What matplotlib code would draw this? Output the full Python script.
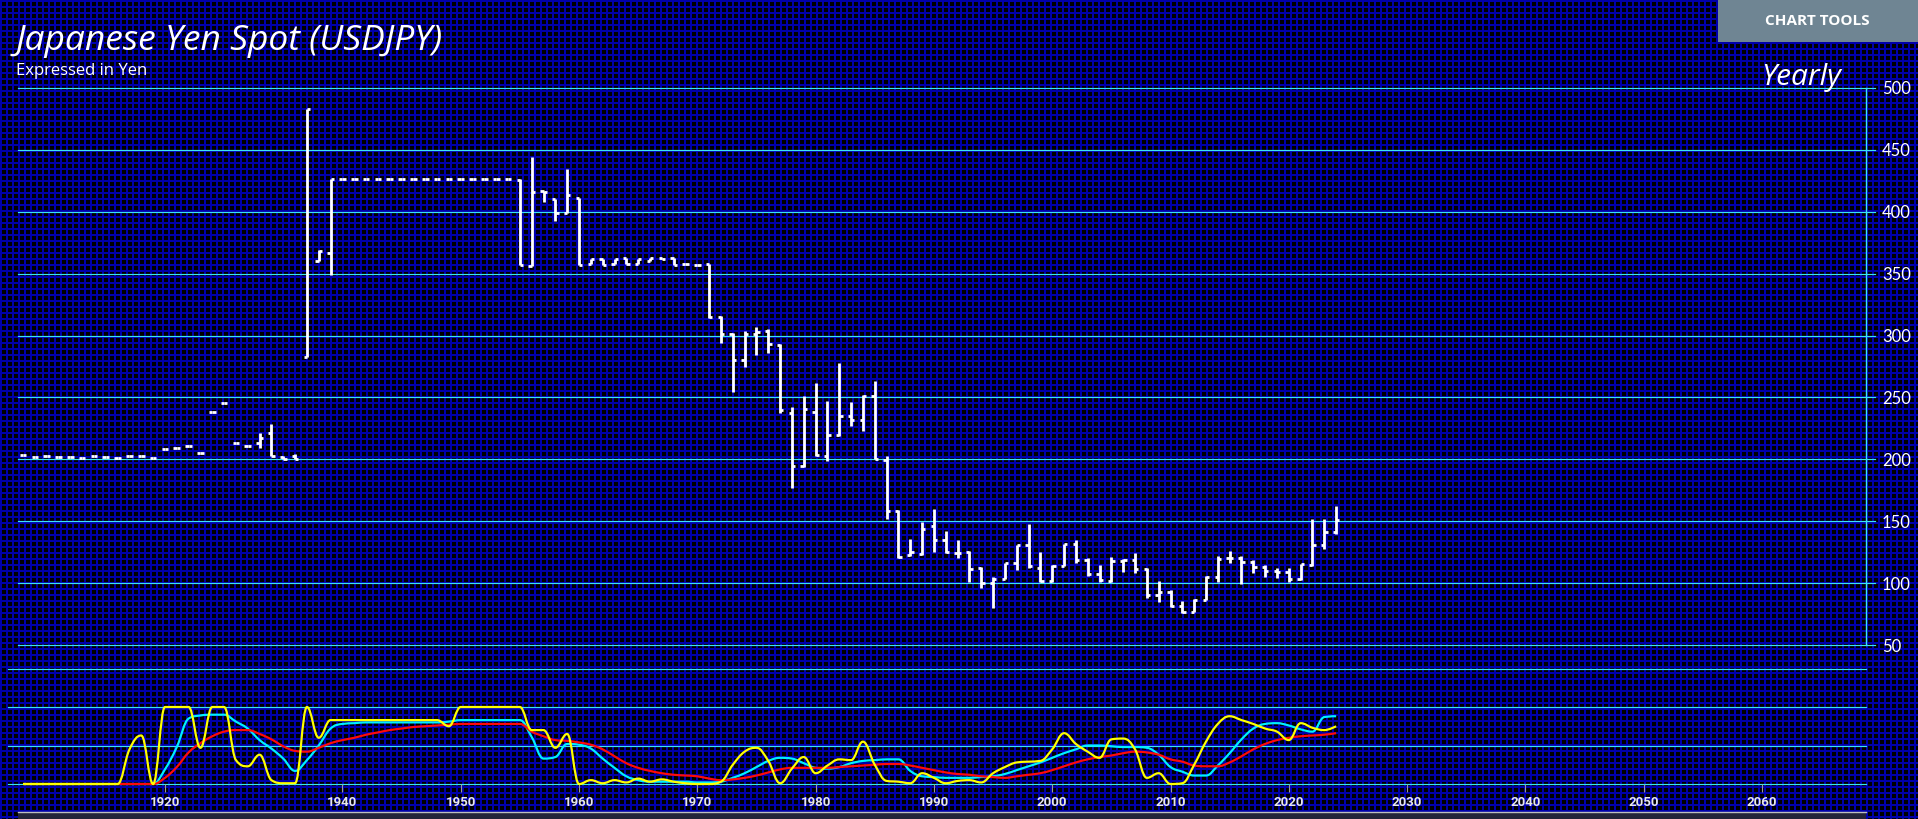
import numpy as np
import matplotlib
matplotlib.use("Agg")
import matplotlib.pyplot as plt
from matplotlib.path import Path
from matplotlib.patches import PathPatch, Rectangle
from matplotlib.lines import Line2D
from matplotlib.collections import LineCollection

# ---------------- data ----------------
years = list(range(1908, 1935)) + list(range(1940, 2025))

opens = [203.3, 201.7, 202.5, 201.7, 201.7, 200.9, 202.5, 201.7, 200.9, 202.5, 202.5, 200.9,
         208.1, 208.9, 210.5, 204.9, 238.0, 245.3, 212.9, 210.5, 213.0, 221.0, 202.0, 203.0,
         283.0, 360.0, 367.0] + [426.5] * 15 + [
         426.0, 356.0, 417.0, 410.0, 399.0, 411.0, 358.0, 362.0, 358.0, 363.0, 358.0, 360.5,
         363.0, 362.4, 358.0, 357.3, 357.8, 315.0, 301.5, 280.5, 301.0, 303.6, 292.7, 237.2,
         194.6, 238.2, 203.0, 220.0, 235.0, 232.0, 251.0, 199.5, 158.0, 122.7, 123.5, 146.0,
         135.0, 124.7, 125.0, 112.5, 99.8, 103.0, 116.0, 130.5, 112.5, 102.0, 114.0, 131.6,
         118.7, 107.0, 102.0, 118.0, 119.0, 111.0, 90.0, 92.8, 81.6, 77.0, 86.7, 105.0,
         120.5, 120.3, 117.0, 112.7, 109.7, 108.6, 103.2, 115.0, 131.0, 141.0]
highs = [203.3, 201.7, 202.5, 201.7, 201.7, 200.9, 202.5, 201.7, 200.9, 202.5, 202.5, 200.9,
         208.1, 208.9, 210.5, 204.9, 238.0, 245.3, 212.9, 210.5, 221.0, 228.5, 202.5, 204.0,
         483.0, 369.0, 426.5] + [426.5] * 15 + [
         426.5, 444.0, 417.0, 410.0, 434.5, 411.0, 362.0, 362.0, 362.0, 363.0, 362.0, 363.0,
         363.0, 362.4, 358.0, 357.3, 358.0, 316.0, 302.4, 303.3, 306.7, 305.7, 293.0, 242.0,
         251.0, 261.4, 247.0, 278.0, 246.0, 252.0, 263.0, 202.7, 159.0, 136.0, 149.6, 160.0,
         142.0, 134.8, 126.0, 113.0, 105.0, 116.5, 131.0, 147.8, 125.0, 114.5, 132.0, 135.0,
         120.0, 114.6, 121.0, 119.7, 124.0, 112.0, 101.7, 94.5, 85.5, 87.2, 105.4, 121.9,
         125.9, 121.7, 118.6, 114.5, 112.4, 112.2, 115.5, 151.9, 151.9, 161.9]
lows = [203.3, 201.7, 202.5, 201.7, 201.7, 200.9, 202.5, 201.7, 200.9, 202.5, 202.5, 200.9,
        208.1, 208.9, 210.5, 204.9, 238.0, 245.3, 212.9, 210.5, 209.5, 202.7, 200.0, 200.0,
        283.0, 360.0, 349.0] + [426.5] * 15 + [
        357.0, 356.0, 408.0, 392.5, 399.0, 357.0, 358.0, 357.0, 358.0, 358.0, 358.0, 360.5,
        361.5, 357.3, 358.0, 357.3, 314.0, 294.0, 254.7, 275.0, 284.4, 286.0, 237.7, 177.0,
        193.8, 202.7, 199.0, 219.0, 227.0, 223.0, 200.0, 151.8, 120.0, 121.9, 123.0, 125.0,
        124.0, 119.9, 101.0, 96.3, 79.6, 103.0, 110.6, 112.0, 101.0, 101.0, 113.6, 116.0,
        106.0, 101.0, 101.0, 109.0, 108.0, 87.7, 85.0, 80.9, 75.6, 77.0, 86.5, 101.0,
        116.5, 99.0, 107.8, 104.6, 104.5, 101.2, 102.6, 113.5, 127.2, 139.6]
closes = [203.3, 201.7, 202.5, 201.7, 201.7, 200.9, 202.5, 201.7, 200.9, 202.5, 202.5, 200.9,
          208.1, 208.9, 210.5, 204.9, 238.0, 245.3, 212.9, 210.5, 217.5, 203.0, 200.0, 200.0,
          483.0, 368.0, 426.5] + [426.5] * 15 + [
          357.0, 416.0, 416.0, 399.0, 413.5, 357.0, 362.0, 357.0, 362.0, 358.0, 362.0, 363.0,
          362.0, 357.3, 358.0, 357.3, 314.7, 301.0, 280.0, 301.3, 303.0, 293.0, 239.6, 194.6,
          240.9, 203.2, 220.0, 235.0, 232.0, 251.0, 200.0, 158.3, 121.0, 125.0, 143.5, 135.0,
          125.0, 124.7, 111.0, 99.8, 103.0, 116.0, 130.5, 113.8, 102.0, 114.0, 131.6, 118.7,
          107.0, 102.3, 118.0, 119.0, 111.4, 90.0, 92.8, 81.8, 77.0, 86.7, 105.3, 119.8,
          120.3, 116.8, 112.7, 109.7, 108.6, 103.2, 115.1, 131.0, 141.0, 151.0]

# oscillators in lower panel (one value per year)
fast_osc = [0, 0, 0, 0, 0, 0, 0, 0, 0, 45, 63, 0, 100, 100, 100, 47, 100, 100, 31, 23,
            38, 5, 1, 1, 100, 60, 83, 83, 83, 83, 83, 83, 83, 83, 83, 83, 75, 100, 100, 100,
            100, 100, 100, 70, 70, 47, 65, 0, 5, 1, 5, 2, 7, 3, 6, 3, 1, 0, 0, 3,
            25, 42, 47, 30, 1, 20, 35, 14, 24, 32, 31, 55, 25, 4, 3, 1, 14, 8, 1, 4,
            5, 2, 14, 22, 28, 29, 30, 45, 66, 52, 42, 34, 58, 59, 45, 8, 14, 0, 1, 25,
            55, 78, 88, 83, 78, 72, 68, 57, 79, 73, 70, 75]
mid_osc = [0, 0, 0, 0, 0, 0, 0, 0, 0, 0, 0, 0, 19, 48, 85, 89, 90, 90, 81, 72,
           57, 46, 33, 17, 31, 50, 72, 78, 79, 80, 80, 80, 80, 80, 80, 80, 81, 83, 83, 83,
           83, 83, 83, 61, 33, 35, 52, 51, 46, 33, 21, 10, 5, 3, 3, 3, 3, 2, 2, 3,
           8, 14, 22, 30, 34, 33, 27, 21, 20, 22, 27, 30, 31, 32, 32, 17, 10, 9, 8, 8,
           8, 9, 10, 13, 18, 23, 28, 34, 40, 45, 50, 50, 49, 48, 48, 47, 38, 22, 16, 11,
           11, 24, 40, 58, 72, 78, 79, 76, 71, 68, 87, 88]
slow_osc = [0, 0, 0, 0, 0, 0, 0, 0, 0, 0, 0, 0, 8, 22, 41, 53, 62, 68, 70, 70,
            65, 58, 49, 43, 42, 47, 53, 57, 60, 64, 67, 70, 72, 74, 75, 76, 77, 78, 78, 78,
            78, 78, 78, 68, 62, 57, 56, 54, 51, 45, 36, 27, 21, 17, 14, 12, 11, 10, 7, 5,
            6, 8, 11, 15, 19, 21, 21, 21, 21, 22, 23, 24, 25, 26, 26, 24, 21, 18, 15, 13,
            12, 10, 9, 8, 10, 12, 14, 18, 23, 28, 32, 35, 37, 40, 42, 41, 38, 32, 29, 24,
            23, 23, 28, 36, 45, 52, 57, 60, 62, 63, 64, 66]

price_ticks = list(range(50, 501, 50))
osc_levels = [0, 50, 100, 150]
tick_years = [1920, 1940, 1950, 1960, 1970, 1980, 1990, 2000, 2010, 2020, 2030, 2040, 2050, 2060]

# ---------------- layout helpers ----------------
W, H = 1918, 819
DPI = 100
fig = plt.figure(figsize=(W / DPI, H / DPI), dpi=DPI)
fig.patch.set_facecolor("black")

# blue mesh background
P, LW = 6, 2
yy, xx = np.mgrid[0:H, 0:W]
mask = ((xx % P) < LW) | ((yy % P) < LW)
bg = np.zeros((H, W, 3))
bg[mask] = np.array([0, 0, 170]) / 255.0
fig.figimage(bg, xo=0, yo=0, origin="upper", zorder=-10)

def fx(px):
    return px / W

def fy(py):
    return 1 - py / H

GRID = "#3ae4f2"
WHITE = "white"
GRID_LW = 0.85

n = len(years)
idx = np.arange(n)
X0_PX, STEP = 23.0, 11.83          # pixel of first bar, pixels per bar
def px_to_idx(px):
    return (px - X0_PX) / STEP

# ---------------- main price panel ----------------
L, R, T, B = 18, 1866, 88, 645
ax = fig.add_axes([fx(L), fy(B), fx(R - L), (B - T) / H])
ax.set_zorder(2)
ax.set_facecolor("none")
ax.set_xlim(px_to_idx(L), px_to_idx(R))
ax.set_ylim(50, 500)
for s in ["left", "top", "bottom"]:
    ax.spines[s].set_visible(False)
ax.spines["right"].set_color(GRID)
ax.spines["right"].set_linewidth(1.0)
ax.set_xticks([])
ax.yaxis.tick_right()
ax.set_yticks(price_ticks)
ax.set_yticklabels([str(v) for v in price_ticks])
ax.tick_params(axis="y", length=0, pad=11.5, labelsize=12, labelcolor=WHITE)
for lab in ax.get_yticklabels():
    lab.set_fontfamily("Lato")
for v in price_ticks:
    ax.axhline(v, xmin=0, xmax=(1875 - L) / (R - L), color=GRID, lw=GRID_LW, clip_on=False, zorder=1)

bar_lw = 2.8 * 72 / DPI
tick_len = 0.28
segs_v = [[(i, lows[i]), (i, highs[i])] for i in range(n) if highs[i] > lows[i]]
segs_o = [[(i - tick_len, opens[i]), (i, opens[i])] for i in range(n)]
segs_c = [[(i, closes[i]), (i + tick_len, closes[i])] for i in range(n)]
for segs in (segs_v, segs_o, segs_c):
    lc = LineCollection(segs, colors=WHITE, linewidths=bar_lw, capstyle="butt", zorder=3)
    ax.add_collection(lc)

# ---------------- oscillator panel ----------------
L2, R2, T2, B2 = 8, 1866, 660, 784
ax2 = fig.add_axes([fx(L2), fy(B2), fx(R2 - L2), (B2 - T2) / H])
ax2.set_zorder(2)
ax2.set_facecolor("none")
ax2.set_xlim(px_to_idx(L2), px_to_idx(R2))
unit = 0.77  # px per oscillator unit
ax2.set_ylim(0, (B2 - T2) / unit)
for s in ax2.spines.values():
    s.set_visible(False)
ax2.set_yticks([])
for v in osc_levels:
    ax2.axhline(v, color=GRID, lw=GRID_LW, clip_on=False, zorder=1)

def ordinal_pos(y):
    if y <= years[-1]:
        return float(np.interp(y, years, idx))
    return float(idx[-1] + (y - years[-1]))

ax2.set_xticks([ordinal_pos(y) for y in tick_years])
ax2.set_xticklabels([str(y) for y in tick_years])
ax2.tick_params(axis="x", direction="out", length=6, width=0.8, color="#9a9a9a",
                pad=2.5, labelsize=9.5, labelcolor="#e8e8e8")
for lab in ax2.get_xticklabels():
    lab.set_fontfamily("Roboto")
    lab.set_fontweight("bold")

def hc_spline(xs, ys):
    xs = list(map(float, xs)); ys = list(map(float, ys))
    m = len(xs)
    verts = [(xs[0], ys[0])]
    codes = [Path.MOVETO]
    rc = [None] * m
    for i in range(1, m):
        px, py = xs[i], ys[i]
        lx, ly = xs[i - 1], ys[i - 1]
        lcx, lcy = px, py
        if i < m - 1:
            nx, ny = xs[i + 1], ys[i + 1]
            lcx = (1.5 * px + lx) / 2.5
            lcy = (1.5 * py + ly) / 2.5
            rcx = (1.5 * px + nx) / 2.5
            rcy = (1.5 * py + ny) / 2.5
            corr = 0.0
            if rcx != lcx:
                corr = (rcy - lcy) * (rcx - px) / (rcx - lcx) + py - rcy
            lcy += corr
            rcy += corr
            if lcy > ly and lcy > py:
                lcy = max(ly, py); rcy = 2 * py - lcy
            elif lcy < ly and lcy < py:
                lcy = min(ly, py); rcy = 2 * py - lcy
            if rcy > ny and rcy > py:
                rcy = max(ny, py); lcy = 2 * py - rcy
            elif rcy < ny and rcy < py:
                rcy = min(ny, py); lcy = 2 * py - rcy
            rc[i] = (rcx, rcy)
        prev = rc[i - 1] if rc[i - 1] is not None else (lx, ly)
        verts += [prev, (lcx, lcy), (px, py)]
        codes += [Path.CURVE4] * 3
    return Path(verts, codes)

line_lw = 2.2 * 72 / DPI
for series, col, z in ((mid_osc, "#00f0ff", 4), (slow_osc, "#ff0a0a", 5), (fast_osc, "#ffff00", 6)):
    patch = PathPatch(hc_spline(idx, series), facecolor="none", edgecolor=col,
                      lw=line_lw, clip_on=False, zorder=z, joinstyle="round")
    ax2.add_patch(patch)

# navigator strip at the very bottom
fig.add_artist(Rectangle((fx(18), 0), fx(1866 - 18), 7 / H, transform=fig.transFigure,
                         facecolor="#23233a", edgecolor="none", zorder=2))
fig.add_artist(Line2D([fx(18), fx(1866)], [fy(812), fy(812)], transform=fig.transFigure,
                      color="#bdbdbd", lw=1.0, zorder=3))

# ---------------- texts ----------------
fig.text(fx(16), fy(41), "Japanese Yen Spot (USDJPY)", color=WHITE, fontsize=25.5,
         style="italic", family="Open Sans", va="center", ha="left")
fig.text(fx(16), fy(71), "Expressed in Yen", color=WHITE, fontsize=12,
         family="Open Sans", va="center", ha="left")
fig.text(fx(1841), fy(77), "Yearly", color=WHITE, fontsize=21.5, style="italic",
         family="Open Sans", va="center", ha="right")

fig.add_artist(Rectangle((fx(1718), fy(42)), fx(W - 1718), 42 / H, transform=fig.transFigure,
                         facecolor="#6f8593", edgecolor="none", zorder=5))
fig.text(fx(1817), fy(21), "CHART TOOLS", color=WHITE, fontsize=11, fontweight="bold",
         family="Open Sans", va="center", ha="center", zorder=6)

fig.savefig("out.png", dpi=DPI, facecolor=fig.get_facecolor())
